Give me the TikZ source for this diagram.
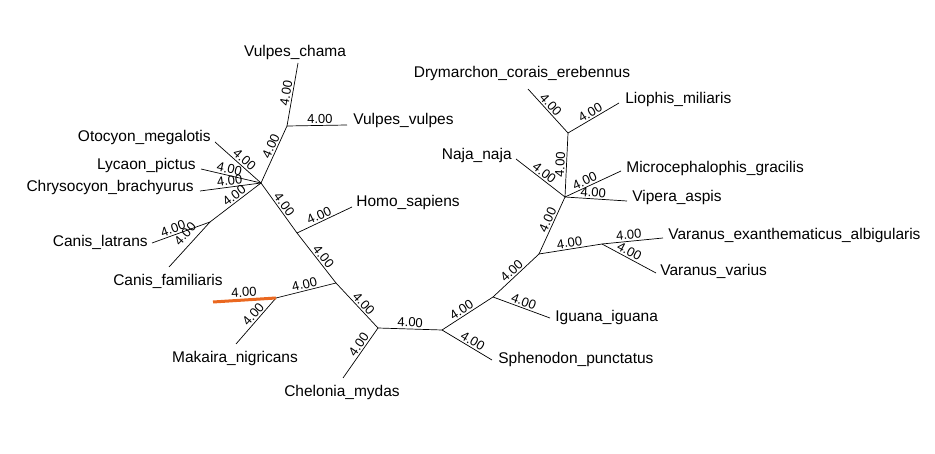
\documentclass[tikz,border=0pt]{standalone}
\usepackage{fontspec}
\setmainfont{Liberation Sans}
\usepackage{xcolor}
\usepackage{tikz}
\definecolor{hilite}{RGB}{234,104,32}

\begin{document}
\begin{tikzpicture}[x=1pt,y=-1pt,line width=0.7pt]
\tikzset{leaf/.style={inner sep=0pt, font=\fontsize{15.5}{18}\selectfont}}
\tikzset{blen/.style={sloped, above, inner sep=1.5pt, font=\fontsize{13}{15}\selectfont}}
\useasboundingbox (0,0) rectangle (935,454);

\coordinate (canid) at (261,183);
\coordinate (vulp) at (287,126);
\coordinate (canis) at (210,222);
\coordinate (homo) at (297,233);
\coordinate (fish) at (336,283);
\coordinate (maka) at (276,298);
\coordinate (turt) at (378,328);
\coordinate (sphe) at (442,330);
\coordinate (igua) at (493,297);
\coordinate (vara) at (539,254);
\coordinate (varn) at (602,244);
\coordinate (squa) at (565,197);
\coordinate (snak) at (568,133);

\coordinate (t1) at (298,63);
\coordinate (t2) at (347,125);
\coordinate (t3) at (215,142);
\coordinate (t4) at (201,169);
\coordinate (t5) at (200,191);
\coordinate (t6) at (152,243);
\coordinate (t7) at (169,267);
\coordinate (t8) at (352,207);
\coordinate (t9) at (236,344);
\coordinate (t10) at (213,302);
\coordinate (t11) at (343,378);
\coordinate (t12) at (492,360);
\coordinate (t13) at (550,318);
\coordinate (t14) at (663,238);
\coordinate (t15) at (656,273);
\coordinate (t16) at (627,201);
\coordinate (t17) at (621,171);
\coordinate (t18) at (516,159);
\coordinate (t19) at (528,89);
\coordinate (t20) at (619,103);

\node[leaf] (n1) at (295,52) {Vulpes\_chama};
\node[leaf,anchor=west] (n2) at (353,120) {Vulpes\_vulpes};
\node[leaf,anchor=east] (n3) at (211,137) {Otocyon\_megalotis};
\node[leaf,anchor=east] (n4) at (196,165) {Lycaon\_pictus};
\node[leaf,anchor=east] (n5) at (194,187) {Chrysocyon\_brachyurus};
\node[leaf,anchor=east] (n6) at (148,242) {Canis\_latrans};
\node[leaf] (n7) at (168,281) {Canis\_familiaris};
\node[leaf,anchor=west] (n8) at (356,202) {Homo\_sapiens};
\node[leaf] (n9) at (235,358) {Makaira\_nigricans};
\node[leaf] (n11) at (342,392) {Chelonia\_mydas};
\node[leaf,anchor=west] (n12) at (498,359) {Sphenodon\_punctatus};
\node[leaf,anchor=west] (n13) at (555,317) {Iguana\_iguana};
\node[leaf,anchor=west] (n14) at (668,235) {Varanus\_exanthematicus\_albigularis};
\node[leaf,anchor=west] (n15) at (660,271) {Varanus\_varius};
\node[leaf,anchor=west] (n16) at (632,197) {Vipera\_aspis};
\node[leaf,anchor=west] (n17) at (626,168) {Microcephalophis\_gracilis};
\node[leaf,anchor=east] (n18) at (512,155) {Naja\_naja};
\node[leaf] (n19) at (522,73) {Drymarchon\_corais\_erebennus};
\node[leaf,anchor=west] (n20) at (625,99) {Liophis\_miliaris};

\draw (canid) -- node[blen,pos=0.6] {4.00} (vulp);
\draw (vulp) -- node[blen,pos=0.5] {4.00} (t1);
\draw (vulp) -- node[blen,pos=0.55] {4.00} (t2);
\draw (canid) -- node[blen,pos=0.45] {4.00} (t3);
\draw (canid) -- node[blen,pos=0.55] {4.00} (t4);
\draw (canid) -- node[blen,pos=0.5] {4.00} (t5);
\draw (canid) -- node[blen,pos=0.45] {4.00} (canis);
\draw (canis) -- node[blen,pos=0.6] {4.00} (t6);
\draw (canis) -- node[blen,pos=0.42,above=4pt] {4.00} (t7);
\draw (canid) -- node[blen,pos=0.5] {4.00} (homo);
\draw (homo) -- node[blen,pos=0.45] {4.00} (t8);
\draw (homo) -- node[blen,pos=0.55] {4.00} (fish);
\draw (fish) -- node[blen,pos=0.5] {4.00} (maka);
\draw (maka) -- node[blen,pos=0.45] {4.00} (t9);
\draw[hilite,line width=3pt] (maka) -- node[blen,pos=0.5,black] {4.00} (t10);
\draw (fish) -- node[blen,pos=0.55] {4.00} (turt);
\draw (turt) -- node[blen,pos=0.4] {4.00} (t11);
\draw (turt) -- node[blen,pos=0.5] {4.00} (sphe);
\draw (sphe) -- node[blen,pos=0.55] {4.00} (t12);
\draw (sphe) -- node[blen,pos=0.45] {4.00} (igua);
\draw (igua) -- node[blen,pos=0.5] {4.00} (t13);
\draw (igua) -- node[blen,pos=0.5] {4.00} (vara);
\draw (vara) -- node[blen,pos=0.5] {4.00} (varn);
\draw (varn) -- node[blen,pos=0.45] {4.00} (t14);
\draw (varn) -- node[blen,pos=0.45] {4.00} (t15);
\draw (vara) -- node[blen,pos=0.55] {4.00} (squa);
\draw (squa) -- node[blen,pos=0.45] {4.00} (t16);
\draw (squa) -- node[blen,pos=0.4] {4.00} (t17);
\draw (squa) -- node[blen,pos=0.5] {4.00} (t18);
\draw (squa) -- node[blen,pos=0.5] {4.00} (snak);
\draw (snak) -- node[blen,pos=0.55] {4.00} (t19);
\draw (snak) -- node[blen,pos=0.5] {4.00} (t20);
\end{tikzpicture}
\end{document}
